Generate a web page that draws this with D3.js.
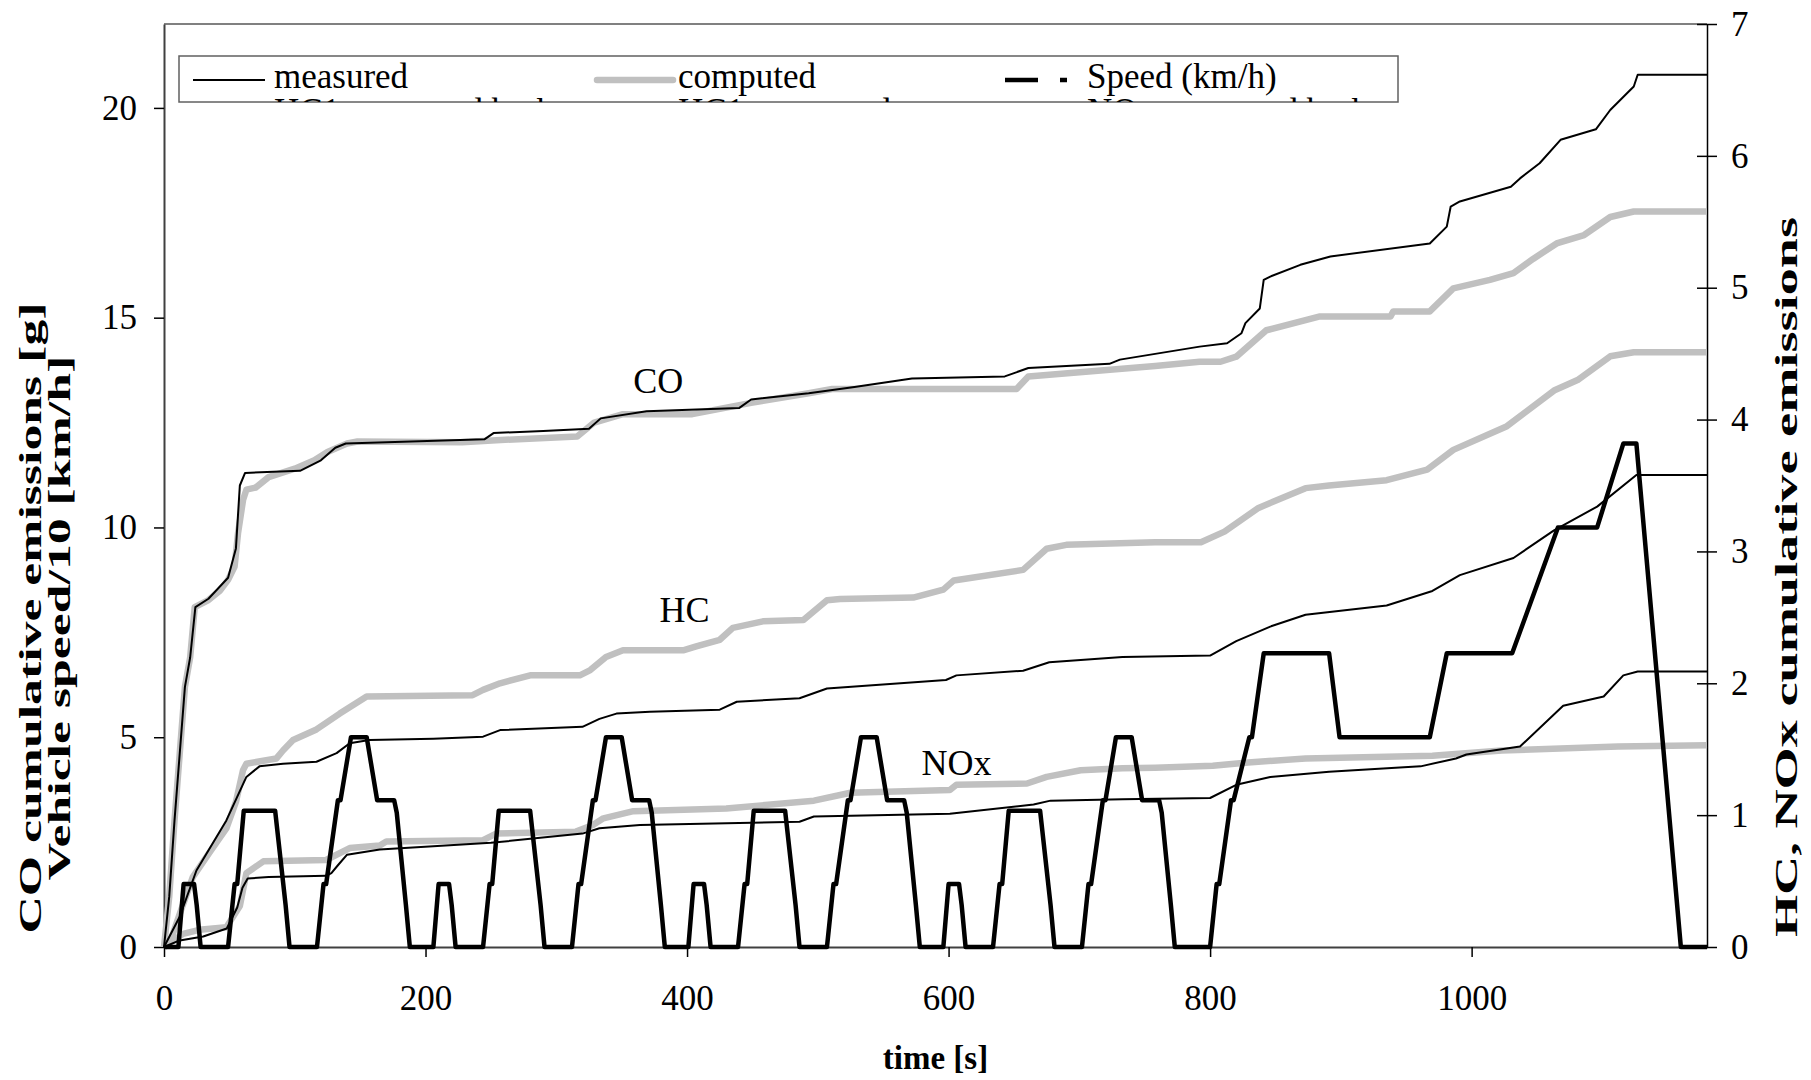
<!DOCTYPE html>
<html>
<head>
<meta charset="utf-8">
<script src="https://cdn.jsdelivr.net/npm/d3@7"></script>
<style>
  body { margin: 0; background: #fff; }
  svg { display: block; font-family: "Liberation Serif", "Times New Roman", serif; }
</style>
</head>
<body>
<svg id="chart"></svg>
<script>
// time [s], value  (CO on left axis in g, HC / NOx on right axis)
const coMeasured = [[0,0],[4,1.2],[8,3.0],[12,4.6],[16,6.2],[20,6.9],[24,8.1],[34,8.3],[49,8.8],[55,9.5],[58,11.0],[62,11.3],[104,11.35],[120,11.6],[131,11.9],[139,12.0],[245,12.1],[252,12.25],[290,12.3],[325,12.35],[334,12.6],[369,12.77],[440,12.85],[449,13.05],[493,13.2],[528,13.35],[572,13.55],[643,13.6],[661,13.8],[723,13.9],[731,14.0],[792,14.31],[813,14.39],[824,14.63],[827,14.87],[838,15.22],[841,15.9],[846,15.98],[869,16.26],[892,16.46],[968,16.77],[981,17.17],[984,17.65],[991,17.77],[1030,18.12],[1037,18.32],[1052,18.68],[1068,19.24],[1095,19.49],[1106,19.95],[1124,20.51],[1127,20.79],[1180,20.79]];
const coComputed = [[0,0],[4,1.2],[8,3.0],[12,4.6],[16,6.2],[20,6.9],[23.5,8.1],[34,8.27],[43,8.5],[49,8.75],[54,9.07],[56.6,9.86],[60.5,10.66],[63,10.9],[70,10.95],[80,11.2],[90,11.3],[100,11.4],[115,11.6],[125,11.8],[140,12.0],[148,12.05],[228,12.03],[254,12.08],[316,12.17],[329,12.5],[351,12.7],[404,12.7],[449,12.97],[493,13.2],[511,13.3],[652,13.3],[661,13.6],[758,13.85],[792,13.95],[808,13.95],[820,14.07],[843,14.7],[884,15.03],[938,15.03],[940,15.15],[968,15.15],[986,15.7],[1014,15.9],[1032,16.06],[1047,16.4],[1065,16.77],[1086,16.97],[1106,17.4],[1124,17.53],[1180,17.53]];
const hcMeasured = [[0,0],[12,0.23],[24.8,0.58],[47.7,0.96],[63,1.29],[73,1.37],[91,1.39],[116.6,1.405],[132,1.47],[142,1.545],[157,1.57],[206,1.58],[244,1.595],[257,1.645],[320,1.67],[333,1.73],[346,1.77],[371.6,1.785],[425,1.8],[438,1.86],[486,1.886],[507,1.96],[598,2.025],[606,2.06],[657,2.095],[677,2.16],[733,2.2],[800,2.21],[820,2.32],[846,2.43],[873,2.52],[935,2.59],[970,2.7],[991,2.82],[1032,2.95],[1063,3.16],[1096,3.34],[1126,3.58],[1180,3.58]];
const hcComputed = [[0,0],[4.4,0.03],[12,0.25],[22,0.53],[35,0.72],[47.7,0.9],[55,1.1],[60.4,1.34],[63,1.39],[86,1.43],[91,1.49],[98.7,1.57],[116.6,1.65],[134.4,1.77],[155,1.9],[236,1.91],[244,1.95],[257,2.0],[280,2.06],[318,2.06],[326,2.1],[338,2.2],[351,2.25],[397,2.25],[407,2.28],[425,2.33],[435,2.42],[458,2.47],[489,2.48],[507,2.63],[517,2.64],[573,2.65],[596,2.71],[604,2.78],[657,2.86],[675,3.02],[690,3.05],[758,3.07],[793,3.07],[811,3.15],[837,3.33],[873,3.48],[891,3.5],[935,3.54],[966,3.62],[986,3.77],[1027,3.95],[1063,4.22],[1081,4.3],[1106,4.48],[1124,4.51],[1180,4.51]];
const noxMeasured = [[0,0],[12,0.05],[30,0.08],[48,0.14],[56,0.3],[60,0.45],[64,0.52],[80,0.53],[124,0.54],[128,0.56],[133,0.62],[140,0.7],[165,0.74],[250,0.79],[320,0.86],[333,0.9],[364,0.925],[486,0.95],[497,0.99],[601,1.01],[665,1.08],[678,1.11],[733,1.12],[800,1.13],[820,1.23],[846,1.29],[891,1.33],[961,1.37],[988,1.43],[996,1.46],[1037,1.52],[1070,1.83],[1101,1.9],[1116,2.06],[1127,2.09],[1180,2.09]];
const noxComputed = [[0,0],[14.5,0.1],[27,0.13],[47.7,0.15],[58,0.31],[63,0.56],[76,0.65],[124,0.66],[142,0.75],[165,0.77],[170,0.8],[244,0.81],[254,0.86],[315,0.875],[328,0.925],[336,0.976],[359,1.03],[430,1.05],[497,1.11],[525,1.17],[601,1.19],[606,1.23],[660,1.24],[675,1.29],[701,1.34],[733,1.355],[758,1.36],[802,1.375],[829,1.4],[873,1.43],[970,1.45],[1023,1.49],[1112,1.52],[1180,1.53]];

// vehicle speed [km/h] (plotted as speed/10 on the left axis)
const speedKmh = [
  [0,0],[11,0],[15,15],[23,15],[25,10],[28,0],[49,0],[54,15],[56,15],[61,32.5],[85,32.5],[93,10],[96,0],[117,0],[122,15],[124,15],[133,35],[135,35],[143,50],[155,50],[163,35],[176,35],[178,32],[185,10],[188,0],[195,0],
  [206,0],[210,15],[218,15],[220,10],[223,0],[244,0],[249,15],[251,15],[256,32.5],[280,32.5],[288,10],[291,0],[312,0],[317,15],[319,15],[328,35],[330,35],[338,50],[350,50],[358,35],[371,35],[373,32],[380,10],[383,0],[390,0],
  [401,0],[405,15],[413,15],[415,10],[418,0],[439,0],[444,15],[446,15],[451,32.5],[475,32.5],[483,10],[486,0],[507,0],[512,15],[514,15],[523,35],[525,35],[533,50],[545,50],[553,35],[566,35],[568,32],[575,10],[578,0],[585,0],
  [596,0],[600,15],[608,15],[610,10],[613,0],[634,0],[639,15],[641,15],[646,32.5],[670,32.5],[678,10],[681,0],[702,0],[707,15],[709,15],[718,35],[720,35],[728,50],[740,50],[748,35],[761,35],[763,32],[770,10],[773,0],[780,0],
  [800,0],[805,15],[807,15],[816,35],[818,35],[830,50],[832,50],[841,70],[891,70],[899,50],[968,50],[981,70],[1031,70],[1066,100],[1096,100],[1116,120],[1126,120],[1160,0],[1180,0]
];

const xTicks = [0, 200, 400, 600, 800, 1000];
const leftTicks = [0, 5, 10, 15, 20];
const rightTicks = [0, 1, 2, 3, 4, 5, 6, 7];
const legendRow1 = ["measured", "computed", "Speed (km/h)"];
const legendRow2 = ["HC1 measured both", "HC1 computed", "NOx measured both"];
const curveLabels = [
  { text: "CO", t: 378, v: 13.2 },
  { text: "HC", t: 398, v: 7.75 },
  { text: "NOx", t: 606, v: 4.1 }
];

// set the dimensions and margins of the chart
const W = 1811, H = 1080;
const margin = { top: 24, right: 104, bottom: 133, left: 164 },
  width = W - margin.left - margin.right,
  height = H - margin.top - margin.bottom;

const svg = d3.select("#chart").attr("width", W).attr("height", H);
const g = svg.append("g").attr("transform", "translate(" + margin.left + "," + margin.top + ")");

const x = d3.scaleLinear().domain([0, 1180]).range([0, width]);
const yL = d3.scaleLinear().domain([0, 22]).range([height, 0]);
const yR = d3.scaleLinear().domain([0, 7]).range([height, 0]);

// plot frame (top grey, axes drawn below)
g.append("line").attr("x1", 0).attr("x2", width).attr("y1", 0).attr("y2", 0)
  .attr("stroke", "#808080").attr("stroke-width", 2);

// axes
const fmt = d3.format("d");
const xAxis = g.append("g").attr("transform", "translate(0," + height + ")")
  .call(d3.axisBottom(x).tickValues(xTicks).tickFormat(fmt).tickSize(10).tickSizeOuter(0).tickPadding(28));
const leftAxis = g.append("g")
  .call(d3.axisLeft(yL).tickValues(leftTicks).tickFormat(fmt).tickSize(10).tickSizeOuter(0).tickPadding(17));
const rightAxis = g.append("g").attr("transform", "translate(" + width + ",0)")
  .call(d3.axisRight(yR).tickValues(rightTicks).tickFormat(fmt).tickSize(10).tickSizeOuter(0).tickPadding(14));
// right ticks cross the axis
rightAxis.selectAll(".tick line").attr("x1", -10);

[xAxis, leftAxis, rightAxis].forEach(a => {
  a.selectAll("text").attr("font-size", 35).attr("font-family", "Liberation Serif").attr("fill", "#000");
  a.selectAll(".tick line").attr("stroke", "#000").attr("stroke-width", 1.5);
});
xAxis.select(".domain").attr("stroke", "#404040").attr("stroke-width", 2);
leftAxis.select(".domain").attr("stroke", "#404040").attr("stroke-width", 2);
rightAxis.select(".domain").attr("stroke", "#000").attr("stroke-width", 1.5);

// lines
const lineL = d3.line().x(d => x(d[0])).y(d => yL(d[1]));
const lineR = d3.line().x(d => x(d[0])).y(d => yR(d[1]));
const lineSpeed = d3.line().x(d => x(d[0])).y(d => yL(d[1] / 10));

const series = [
  { data: coComputed, line: lineL, color: "#c0c0c0", w: 6.5 },
  { data: hcComputed, line: lineR, color: "#c0c0c0", w: 6.5 },
  { data: noxComputed, line: lineR, color: "#c0c0c0", w: 6.5 },
  { data: coMeasured, line: lineL, color: "#000", w: 2 },
  { data: hcMeasured, line: lineR, color: "#000", w: 2 },
  { data: noxMeasured, line: lineR, color: "#000", w: 2 },
  { data: speedKmh, line: lineSpeed, color: "#000", w: 4.5 }
];

g.selectAll(".series")
  .data(series)
  .enter().append("path")
  .attr("class", "series")
  .attr("d", d => d.line(d.data))
  .attr("fill", "none")
  .attr("stroke", d => d.color)
  .attr("stroke-width", d => d.w)
  .attr("stroke-linejoin", "round");

// curve labels
g.selectAll(".clabel")
  .data(curveLabels)
  .enter().append("text")
  .attr("class", "clabel")
  .attr("x", d => x(d.t))
  .attr("y", d => yL(d.v))
  .attr("text-anchor", "middle")
  .attr("font-size", 36)
  .text(d => d.text);

// axis titles
svg.append("text")
  .attr("x", margin.left + width / 2).attr("y", 1069)
  .attr("text-anchor", "middle").attr("font-size", 33).attr("font-weight", "bold")
  .text("time [s]");

svg.append("text")
  .attr("transform", "translate(41,618) rotate(-90) scale(1.67,1)")
  .attr("text-anchor", "middle").attr("font-size", 31).attr("font-weight", "bold")
  .text("CO cumulative emissions [g]");
svg.append("text")
  .attr("transform", "translate(70,618) rotate(-90) scale(1.67,1)")
  .attr("text-anchor", "middle").attr("font-size", 31).attr("font-weight", "bold")
  .text("Vehicle speed/10 [km/h]");
svg.append("text")
  .attr("transform", "translate(1797,577) rotate(-90) scale(1.75,1)")
  .attr("text-anchor", "middle").attr("font-size", 31).attr("font-weight", "bold")
  .text("HC, NOx cumulative emissions");

// legend
const lg = svg.append("g");
const lx = 179, ly = 56, lw = 1219, lh = 46;
svg.append("clipPath").attr("id", "legclip")
  .append("rect").attr("x", lx).attr("y", ly).attr("width", lw).attr("height", lh);
lg.append("rect").attr("x", lx).attr("y", ly).attr("width", lw).attr("height", lh)
  .attr("fill", "#fff").attr("stroke", "#606060").attr("stroke-width", 1.5);

const colX = [193, 597, 1005];
const inner = lg.append("g").attr("clip-path", "url(#legclip)");
inner.selectAll(".r1")
  .data(legendRow1)
  .enter().append("text")
  .attr("x", (d, i) => colX[i] + (i === 2 ? 82 : 81))
  .attr("y", 88)
  .attr("font-size", 35)
  .text(d => d);
inner.selectAll(".r2")
  .data(legendRow2)
  .enter().append("text")
  .attr("x", (d, i) => colX[i] + (i === 2 ? 82 : 81))
  .attr("y", 123)
  .attr("font-size", 35)
  .text(d => d);

inner.append("line").attr("x1", colX[0]).attr("x2", colX[0] + 72).attr("y1", 80).attr("y2", 80)
  .attr("stroke", "#000").attr("stroke-width", 2);
inner.append("line").attr("x1", colX[1]).attr("x2", colX[1] + 76).attr("y1", 80).attr("y2", 80)
  .attr("stroke", "#c0c0c0").attr("stroke-width", 6.5).attr("stroke-linecap", "round");
inner.append("line").attr("x1", colX[2]).attr("x2", colX[2] + 63).attr("y1", 80).attr("y2", 80)
  .attr("stroke", "#000").attr("stroke-width", 4.5).attr("stroke-dasharray", "33,22,7,20");
</script>
</body>
</html>
